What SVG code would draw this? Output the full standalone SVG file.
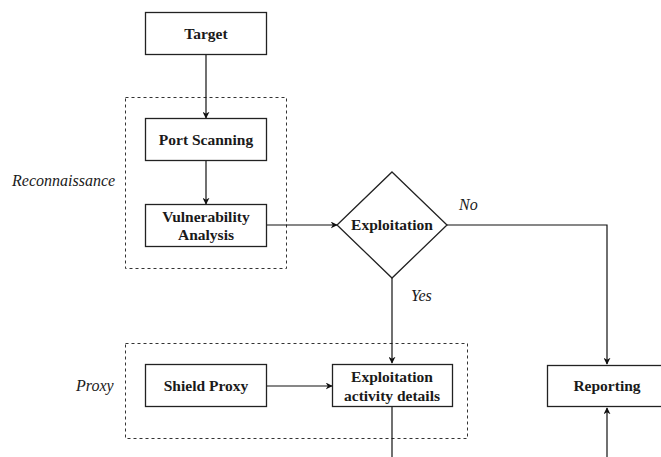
<svg xmlns="http://www.w3.org/2000/svg" width="661" height="457" viewBox="0 0 661 457">
  <style>
    .box { fill: #ffffff; stroke: #222222; stroke-width: 1.3; }
    .group { fill: none; stroke: #333333; stroke-width: 1; stroke-dasharray: 3 3; }
    .edge { fill: none; stroke: #111111; stroke-width: 1.2; }
    text { font-family: Liberation Serif, Noto Serif, DejaVu Serif, FreeSerif, Tinos, serif; }
    .lbl { font-weight: bold; font-size: 15.5px; fill: #1a1a1a; text-anchor: middle; }
    .cap { font-style: italic; font-size: 16px; fill: #1a1a1a; }
  </style>
  <defs>
    <marker id="arrow" viewBox="0 0 10 10" refX="9" refY="5" markerWidth="7" markerHeight="7" markerUnits="userSpaceOnUse" orient="auto">
      <path d="M0,0 L10,5 L0,10 L3,5 Z" fill="#111111"/>
    </marker>
  </defs>

  <rect width="661" height="457" fill="#ffffff"/>

  <!-- grouping frames -->
  <g id="reconnaissance-group">
    <rect class="group" x="125.5" y="97.5" width="161" height="171"/>
    <text class="cap" x="12" y="186">Reconnaissance</text>
  </g>
  <g id="proxy-group">
    <rect class="group" x="125.5" y="343.5" width="342" height="95"/>
    <text class="cap" x="76" y="391">Proxy</text>
  </g>

  <!-- connectors -->
  <g id="connectors">
    <path class="edge" d="M206,54 L206,118" marker-end="url(#arrow)"/>
    <path class="edge" d="M206,161 L206,204" marker-end="url(#arrow)"/>
    <path class="edge" d="M266,225 L337,225" marker-end="url(#arrow)"/>
    <path class="edge" d="M447,225 L607,225 L607,364" marker-end="url(#arrow)"/>
    <path class="edge" d="M392,278 L392,363" marker-end="url(#arrow)"/>
    <path class="edge" d="M266,386 L332,386" marker-end="url(#arrow)"/>
    <path class="edge" d="M392,407 L392,457"/>
    <path class="edge" d="M607,457 L607,408" marker-end="url(#arrow)"/>
    <text class="cap" x="459" y="210">No</text>
    <text class="cap" x="411" y="301">Yes</text>
  </g>

  <!-- nodes -->
  <g id="target">
    <rect class="box" x="145.5" y="12.5" width="121" height="42"/>
    <text class="lbl" x="206" y="39">Target</text>
  </g>
  <g id="port-scanning">
    <rect class="box" x="145.5" y="118.5" width="121" height="42"/>
    <text class="lbl" x="206" y="145">Port Scanning</text>
  </g>
  <g id="vulnerability-analysis">
    <rect class="box" x="145.5" y="204.5" width="121" height="42"/>
    <text class="lbl" x="206" y="222">Vulnerability</text>
    <text class="lbl" x="206" y="240">Analysis</text>
  </g>
  <g id="exploitation">
    <polygon class="box" points="392,172 447,225 392,278 337,225"/>
    <text class="lbl" x="392" y="230">Exploitation</text>
  </g>
  <g id="shield-proxy">
    <rect class="box" x="145.5" y="364.5" width="121" height="42"/>
    <text class="lbl" x="206" y="391">Shield Proxy</text>
  </g>
  <g id="exploitation-activity-details">
    <rect class="box" x="332.5" y="364.5" width="120" height="42"/>
    <text class="lbl" x="392" y="382">Exploitation</text>
    <text class="lbl" x="392" y="401">activity details</text>
  </g>
  <g id="reporting">
    <rect class="box" x="547.5" y="365.5" width="130" height="41"/>
    <text class="lbl" x="607" y="391">Reporting</text>
  </g>
</svg>
